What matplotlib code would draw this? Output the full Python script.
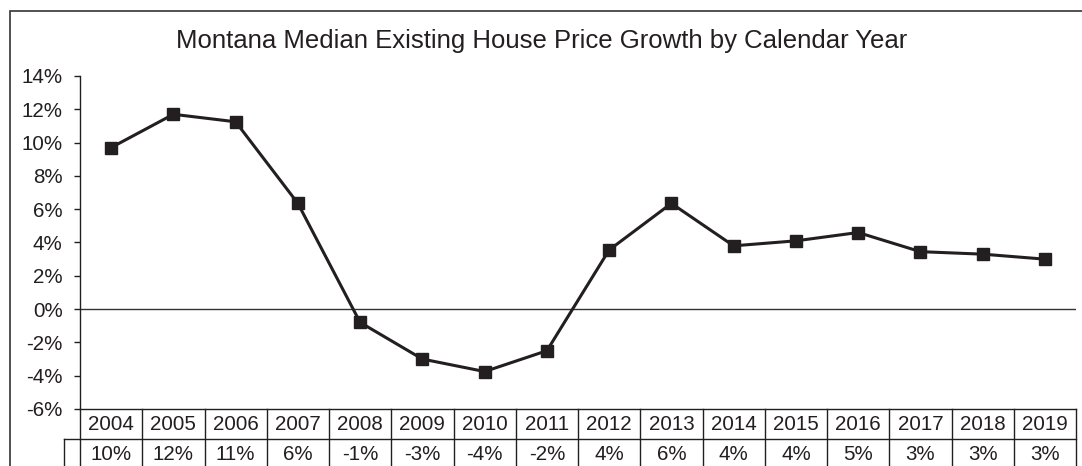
import numpy as np
import matplotlib
matplotlib.use('Agg')
import matplotlib.pyplot as plt
from matplotlib.ticker import FuncFormatter
from matplotlib.patches import Rectangle
import matplotlib.transforms as mtransforms

plt.rcParams['font.family'] = ['Liberation Sans', 'DejaVu Sans']

# data
years = ['2004', '2005', '2006', '2007', '2008', '2009', '2010', '2011',
         '2012', '2013', '2014', '2015', '2016', '2017', '2018', '2019']
growth = [9.7, 11.7, 11.25, 6.35, -0.8, -3.0, -3.75, -2.5,
          3.55, 6.35, 3.8, 4.1, 4.6, 3.45, 3.3, 3.0]
table_labels = ['10%', '12%', '11%', '6%', '-1%', '-3%', '-4%', '-2%',
                '4%', '6%', '4%', '4%', '5%', '3%', '3%', '3%']
title = 'Montana Median Existing House Price Growth by Calendar Year'

ink = '#231f20'
W, H = 1082, 466
fig = plt.figure(figsize=(W / 100, H / 100), dpi=100)

# outer chart frame (Excel chart area border)
fig.patches.append(Rectangle((10 / W, -0.2), 1.2, (H - 11) / H + 0.2,
                             transform=fig.transFigure, fill=False,
                             edgecolor='#333333', linewidth=1.2))

left, right = 80 / W, 1076 / W
bottom, top = (H - 409) / H, (H - 76) / H
ax = fig.add_axes([left, bottom, right - left, top - bottom])

x = np.arange(len(years))
ax.plot(x, growth, color=ink, linewidth=2.2, marker='s', markersize=8,
        markerfacecolor=ink, markeredgecolor=ink, zorder=3)
ax.axhline(0, color='#333333', linewidth=1.0, zorder=2)

ax.set_xlim(-0.5, len(years) - 0.5)
ax.set_ylim(-6, 14)
ax.set_yticks(np.arange(-6, 15, 2))
ax.yaxis.set_major_formatter(FuncFormatter(lambda v, p: f'{v:.0f}%'))
ax.tick_params(axis='y', length=4.5, width=1, color=ink, pad=8,
               labelsize=14.8, labelcolor=ink)
ax.set_xticks([])
for s in ['top', 'right', 'bottom']:
    ax.spines[s].set_visible(False)
ax.spines['left'].set_color(ink)
ax.spines['left'].set_linewidth(1)

fig.text(542 / W, (H - 41) / H, title, ha='center', va='center',
         fontsize=18.5, color=ink)

# data table under the plot
tr = mtransforms.blended_transform_factory(ax.transData, ax.transAxes)
row_h = 30 / (409 - 76)
lw = 1.0
n = len(years)
stub = 16 / 62.25
# horizontal lines
ax.plot([-0.5, n - 0.5], [0, 0], transform=tr, color=ink, lw=lw, clip_on=False)
ax.plot([-0.5 - stub, n - 0.5], [-row_h, -row_h], transform=tr,
        color=ink, lw=lw, clip_on=False)
# vertical lines
for i in range(n + 1):
    ax.plot([i - 0.5, i - 0.5], [0, -3 * row_h], transform=tr, color=ink,
            lw=lw, clip_on=False)
ax.plot([-0.5 - stub] * 2, [-row_h, -3 * row_h], transform=tr,
        color=ink, lw=lw, clip_on=False)
for i in range(n):
    ax.text(i, -row_h / 2, years[i], transform=tr, ha='center', va='center',
            fontsize=14.8, color=ink)
    ax.text(i, -1.5 * row_h, table_labels[i], transform=tr, ha='center',
            va='center', fontsize=14.8, color=ink)

fig.savefig('out.png', dpi=100)
